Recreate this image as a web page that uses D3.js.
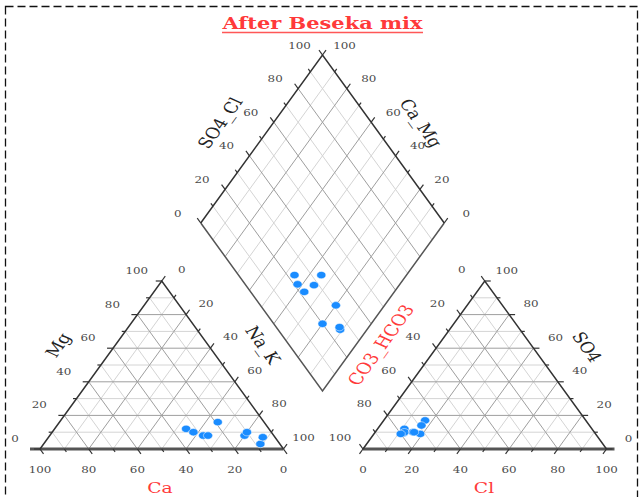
<!DOCTYPE html>
<html>
<head>
<meta charset="utf-8">
<script src="https://cdn.jsdelivr.net/npm/d3@7"></script>
<style>
  html, body { margin: 0; padding: 0; background: #fff; }
  svg { display: block; }
</style>
</head>
<body>
<div id="chart"></div>
<script>
// Piper diagram: cation triangle, anion triangle and the central diamond.
const title = "After Beseka mix";

// Milliequivalent percentages for each sample
const ca   = [34, 32, 29, 19, 27, 12, 10, 8, 5];
const mg   = [12, 10, 8, 16, 8, 8, 10, 3, 7];
const naK  = [54, 58, 63, 65, 65, 80, 80, 89, 88];
const cl   = [11, 12, 12, 17, 19, 17, 11, 15.5, 16];
const so4  = [12, 9.5, 10, 17, 9, 14, 9, 10, 10];
const hco3 = [77, 78.5, 78, 66, 72, 69, 80, 74.5, 74];

const tickValues = [0, 10, 20, 30, 40, 50, 60, 70, 80, 90, 100];
const labelValues = [0, 20, 40, 60, 80, 100];

const width = 643, height = 497;
const svg = d3.select("#chart").append("svg")
  .attr("width", width).attr("height", height);

// Layout
const W = 243.5, H = 168, baseY = 449;
const catX0 = 40, anX0 = 363;
const dB = [322.5, 391];           // bottom vertex of the diamond
const sx = d3.scaleLinear().domain([0, 100]).range([0, W]);
const sy = d3.scaleLinear().domain([0, 100]).range([0, H]);
const sdx = d3.scaleLinear().domain([0, 100]).range([0, W / 2]);

const catPt = (c, m, n) => [catX0 + sx(n + m / 2), baseY - sy(m)];
const anPt = (c, s) => [anX0 + sx(c + s / 2), baseY - sy(s)];
// a = SO4+Cl, c = Ca+Mg
const diaPt = (a, c) => [dB[0] + sdx(a - c), dB[1] - sy(a + c)];

const STRETCH = 1.25;
const serif = "'DejaVu Serif', 'Liberation Serif', serif";
const red = "#ff3a3a";

const gridMinor = svg.append("g").attr("stroke", "#d4d4d4").attr("stroke-width", 1).attr("fill", "none");
const gridMajor = svg.append("g").attr("stroke", "#9e9e9e").attr("stroke-width", 1).attr("fill", "none");
const frame = svg.append("g").attr("fill", "none");
const ticksG = svg.append("g").attr("stroke", "#333").attr("stroke-width", 1.2);
const textG = svg.append("g");
const markG = svg.append("g");

function seg(g, p, q) {
  g.append("line").attr("x1", p[0]).attr("y1", p[1]).attr("x2", q[0]).attr("y2", q[1]);
}
function gridGroup(v) { return v % 20 === 0 ? gridMajor : gridMinor; }

function text(x, y, str, o = {}) {
  const t = textG.append("text")
    .attr("transform", `translate(${x},${y}) scale(${STRETCH},1) rotate(${o.rot || 0})`)
    .attr("text-anchor", "middle")
    .attr("dominant-baseline", "central")
    .attr("font-family", serif)
    .attr("font-size", o.size || 9.5)
    .attr("font-weight", o.weight || "normal")
    .attr("fill", o.fill || "#4a4a4a")
    .text(str);
  if (o.len) t.attr("textLength", o.len).attr("lengthAdjust", "spacingAndGlyphs");
}

// unit directions for ticks
const nrm = Math.hypot(W / 2, H);
const dDR = [W / 2 / nrm, H / nrm], dDL = [-W / 2 / nrm, H / nrm];
const dUR = [W / 2 / nrm, -H / nrm], dUL = [-W / 2 / nrm, -H / nrm];
function tick(p, dir, v) {
  const L = v % 20 === 0 ? 6 : 3.5;
  seg(ticksG, p, [p[0] + dir[0] * L, p[1] + dir[1] * L]);
}

// ---- grids ----
tickValues.filter(v => v > 0 && v < 100).forEach(v => {
  const g = gridGroup(v);
  // cation triangle
  seg(g, catPt(100 - v, v, 0), catPt(0, v, 100 - v));
  seg(g, catPt(v, 100 - v, 0), catPt(v, 0, 100 - v));
  seg(g, catPt(100 - v, 0, v), catPt(0, 100 - v, v));
  // anion triangle
  seg(g, anPt(0, v), anPt(100 - v, v));
  seg(g, anPt(v, 0), anPt(v, 100 - v));
  seg(g, anPt(0, 100 - v), anPt(100 - v, 0));
  // diamond
  seg(g, diaPt(v, 0), diaPt(v, 100));
  seg(g, diaPt(0, v), diaPt(100, v));
});

// ---- frames ----
frame.append("line").attr("x1", catX0 - 10).attr("y1", baseY).attr("x2", catX0 + W).attr("y2", baseY)
  .attr("stroke", "#555").attr("stroke-width", 3);
frame.append("line").attr("x1", anX0).attr("y1", baseY).attr("x2", anX0 + W + 8).attr("y2", baseY)
  .attr("stroke", "#555").attr("stroke-width", 3);
frame.append("path")
  .attr("d", d3.line()([catPt(100, 0, 0), catPt(0, 100, 0), catPt(0, 0, 100)]))
  .attr("stroke", "#333").attr("stroke-width", 1.5);
frame.append("path")
  .attr("d", d3.line()([anPt(0, 0), anPt(0, 100), anPt(100, 0)]))
  .attr("stroke", "#333").attr("stroke-width", 1.5);
frame.append("path")
  .attr("d", d3.line()([diaPt(0, 100), diaPt(0, 0), diaPt(100, 0)]))
  .attr("stroke", "#555").attr("stroke-width", 1.5);
frame.append("path")
  .attr("d", d3.line()([diaPt(0, 100), diaPt(100, 100), diaPt(100, 0)]))
  .attr("stroke", "#333").attr("stroke-width", 1.5);

// ---- ticks ----
tickValues.forEach(v => {
  tick(catPt(100 - v, v, 0), [-1, 0], v);          // Mg (left edge)
  tick(catPt(v, 0, 100 - v), dDR, v);              // Ca (bottom)
  tick(catPt(0, 100 - v, v), dUR, v);              // Na_K (right edge)
  tick(anPt(100 - v, v), [1, 0], v);               // SO4 (right edge)
  tick(anPt(v, 0), dDL, v);                        // Cl (bottom)
  tick(anPt(0, 100 - v), dUL, v);                  // CO3_HCO3 (left edge)
  tick(diaPt(v, 100), dUL, v);                     // SO4_Cl (upper left)
  tick(diaPt(100, v), dUR, v);                     // Ca_Mg (upper right)
});

// ---- tick labels ----
labelValues.forEach(v => {
  let p;
  p = catPt(v, 0, 100 - v); text(p[0], 470, v);
  p = catPt(100 - v, v, 0); text(p[0] - 25, p[1] - 10, v);
  p = catPt(0, 100 - v, v); text(p[0] + 20, p[1] - 11, v);
  p = anPt(v, 0); text(p[0], 470, v);
  p = anPt(0, 100 - v); text(p[0] - 23, p[1] - 11, v);
  p = anPt(100 - v, v); text(p[0] + 22, p[1] - 10.5, v);
  p = diaPt(v, 100); text(p[0] - 23, p[1] - 9.5, v);
  p = diaPt(100, v); text(p[0] + 22, p[1] - 9.5, v);
});

// ---- axis titles ----
text(58, 345, "Mg", { size: 15, rot: -60, fill: "#222" });
text(263, 345, "Na_K", { size: 15, rot: 60, fill: "#222" });
text(160, 488, "Ca", { size: 15, fill: red });
text(484, 488, "Cl", { size: 15, fill: red });
text(381, 345, "CO3_HCO3", { size: 15.5, rot: -60, fill: red });
text(587, 347, "SO4", { size: 15, rot: 60, fill: "#222" });
text(220, 123, "SO4_Cl", { size: 15, rot: -60, fill: "#222" });
text(421, 123, "Ca_Mg", { size: 15, rot: 60, fill: "#222" });

// ---- title ----
text(322.5, 23, title, { size: 16, fill: red, weight: "bold", len: 160 });
svg.append("line").attr("x1", 222).attr("x2", 423).attr("y1", 32.5).attr("y2", 32.5)
  .attr("stroke", red).attr("stroke-width", 1.4).attr("opacity", 0.85);

// ---- samples ----
const idx = d3.range(ca.length);
function dots(points) {
  markG.selectAll(null).data(points).join("ellipse")
    .attr("cx", d => d[0]).attr("cy", d => d[1])
    .attr("rx", 4.6).attr("ry", 3.7)
    .attr("fill", "#1a8cff").attr("stroke", "#fff").attr("stroke-width", 0.5);
}
dots(idx.map(i => catPt(ca[i], mg[i], naK[i])));
dots(idx.map(i => anPt(cl[i], so4[i])));
dots(idx.map(i => diaPt(cl[i] + so4[i], ca[i] + mg[i])));

// ---- dashed border ----
svg.append("rect").attr("x", 5.5).attr("y", 6.5).attr("width", 632).attr("height", 500)
  .attr("fill", "none").attr("stroke", "#111").attr("stroke-width", 1.3)
  .attr("stroke-dasharray", "8,4");
</script>
</body>
</html>
